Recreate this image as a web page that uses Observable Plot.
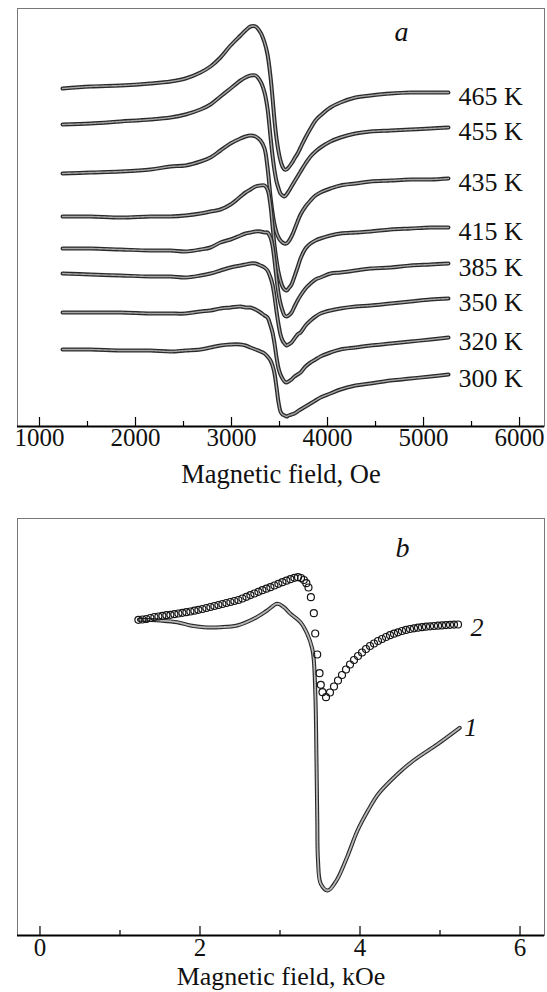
<!DOCTYPE html>
<html>
<head>
<meta charset="utf-8">
<script src="https://cdn.jsdelivr.net/npm/d3@7"></script>
<script src="https://cdn.jsdelivr.net/npm/@observablehq/plot@0.6"></script>
<style>
  html, body { margin: 0; padding: 0; background: #fff; }
  #chart { width: 547px; }
  #chart svg { display: block; }
</style>
</head>
<body>
<div id="chart"></div>
<script>
// ---------- Panel a: EPR derivative spectra, stacked by temperature ----------
// magnetic field (Oe) at which each spectrum is sampled
const fieldA = [1240,1531,1844,2156,2365,2521,2677,2781,2885,2990,3094,3146,3198,3250,3302,3344,3375,3406,3427,3448,3469,3490,3510,3531,3552,3573,3594,3625,3656,3688,3719,3771,3823,3875,3927,4031,4135,4292,4448,4656,4865,5073,5260];
const temperatures = ["465 K", "455 K", "435 K", "415 K", "385 K", "350 K", "320 K", "300 K"];
// signal, arb. units (each spectrum shifted vertically)
const s465 = [3.36,3.38,3.39,3.41,3.43,3.46,3.52,3.58,3.67,3.79,3.89,3.94,3.98,3.98,3.92,3.82,3.70,3.48,3.27,3.04,2.86,2.73,2.64,2.58,2.55,2.55,2.57,2.61,2.66,2.71,2.77,2.87,2.96,3.04,3.09,3.17,3.22,3.27,3.29,3.31,3.32,3.32,3.32];
const s455 = [3.00,3.01,3.03,3.05,3.07,3.10,3.15,3.20,3.28,3.36,3.44,3.47,3.49,3.49,3.43,3.32,3.16,2.88,2.69,2.54,2.43,2.36,2.31,2.29,2.28,2.30,2.33,2.38,2.43,2.48,2.53,2.61,2.68,2.73,2.77,2.83,2.87,2.91,2.93,2.94,2.95,2.96,2.97];
const s435 = [2.51,2.52,2.53,2.55,2.58,2.59,2.63,2.67,2.74,2.81,2.86,2.88,2.89,2.88,2.84,2.76,2.57,2.28,2.12,2.00,1.92,1.87,1.84,1.82,1.81,1.81,1.83,1.88,1.95,2.03,2.10,2.18,2.24,2.29,2.32,2.36,2.39,2.41,2.43,2.44,2.45,2.45,2.46];
const s415 = [2.08,2.08,2.07,2.08,2.08,2.09,2.11,2.13,2.15,2.20,2.28,2.32,2.35,2.38,2.39,2.39,2.35,2.19,1.99,1.79,1.64,1.52,1.44,1.38,1.35,1.34,1.36,1.40,1.48,1.57,1.66,1.76,1.81,1.84,1.86,1.89,1.91,1.92,1.93,1.95,1.96,1.97,1.97];
const s385 = [1.76,1.76,1.75,1.74,1.74,1.73,1.75,1.77,1.82,1.85,1.89,1.91,1.92,1.93,1.93,1.92,1.92,1.87,1.79,1.64,1.46,1.31,1.21,1.14,1.09,1.08,1.09,1.12,1.18,1.24,1.29,1.36,1.41,1.45,1.47,1.51,1.52,1.54,1.56,1.57,1.59,1.60,1.61];
const s350 = [1.51,1.50,1.49,1.48,1.48,1.47,1.49,1.51,1.54,1.57,1.59,1.60,1.61,1.61,1.59,1.57,1.54,1.47,1.40,1.28,1.13,1.00,0.90,0.84,0.81,0.79,0.80,0.82,0.86,0.90,0.92,0.99,1.04,1.08,1.11,1.14,1.16,1.18,1.19,1.21,1.23,1.25,1.26];
const s320 = [1.12,1.12,1.12,1.11,1.11,1.11,1.13,1.14,1.16,1.17,1.18,1.17,1.17,1.15,1.12,1.09,1.07,0.99,0.92,0.81,0.67,0.56,0.50,0.46,0.43,0.42,0.43,0.45,0.48,0.50,0.52,0.58,0.62,0.65,0.68,0.72,0.75,0.77,0.79,0.81,0.83,0.85,0.87];
const s300 = [0.75,0.75,0.74,0.74,0.73,0.74,0.75,0.77,0.79,0.80,0.80,0.79,0.77,0.75,0.73,0.71,0.68,0.64,0.59,0.51,0.37,0.22,0.13,0.10,0.09,0.08,0.09,0.10,0.11,0.13,0.15,0.18,0.21,0.24,0.27,0.31,0.35,0.39,0.41,0.44,0.46,0.48,0.50];

const fieldTicksA = [1000, 2000, 3000, 4000, 5000, 6000];
const fieldMinorA = [1500, 2500, 3500, 4500, 5500];
const titleA = "Magnetic field, Oe";
const domainA = {x: [771, 6260], y: [-0.02, 4.16]};

// ---------- Panel b: two spectra, field in kOe ----------
// [field (kOe), signal (arb. units)]; curve 1: dense small markers, curve 2: sparse open circles
const curve1 = [[1.235,-0.03],[1.381,-0.05],[1.506,-0.10],[1.715,-0.27],[1.881,-0.60],[2.048,-0.77],[2.256,-0.77],[2.465,-0.60],[2.673,0.07],[2.840,0.90],[2.965,1.57],[3.048,1.23],[3.131,0.57],[3.256,-0.27],[3.340,-1.43],[3.403,-2.93],[3.423,-4.10],[3.444,-8.10],[3.456,-14.10],[3.466,-20.10],[3.475,-24.10],[3.510,-26.43],[3.598,-27.10],[3.706,-26.10],[3.838,-23.77],[3.969,-21.10],[4.100,-19.10],[4.231,-17.43],[4.450,-15.60],[4.669,-14.10],[4.975,-12.43],[5.246,-10.83]];
const curve2 = [[1.23,-0.03],[1.28,0.00],[1.33,0.05],[1.38,0.15],[1.43,0.25],[1.48,0.30],[1.53,0.37],[1.58,0.43],[1.63,0.47],[1.68,0.53],[1.73,0.60],[1.78,0.67],[1.83,0.73],[1.88,0.80],[1.93,0.88],[1.98,0.97],[2.03,1.05],[2.08,1.15],[2.13,1.25],[2.18,1.35],[2.23,1.45],[2.28,1.55],[2.33,1.65],[2.38,1.75],[2.43,1.85],[2.48,1.95],[2.53,2.10],[2.58,2.27],[2.63,2.44],[2.68,2.60],[2.73,2.77],[2.78,2.93],[2.83,3.08],[2.88,3.23],[2.93,3.40],[2.98,3.57],[3.03,3.73],[3.08,3.88],[3.13,4.03],[3.18,4.17],[3.225,4.23],[3.263,4.15],[3.298,3.95],[3.329,3.63],[3.356,3.20],[3.386,2.23],[3.423,0.63],[3.44,-1.40],[3.465,-3.50],[3.494,-5.37],[3.51,-6.53],[3.531,-7.27],[3.575,-7.77],[3.625,-7.30],[3.675,-6.70],[3.725,-6.10],[3.775,-5.55],[3.825,-5.00],[3.875,-4.50],[3.925,-4.05],[3.975,-3.65],[4.025,-3.30],[4.075,-2.95],[4.125,-2.65],[4.175,-2.40],[4.225,-2.15],[4.275,-1.95],[4.325,-1.75],[4.375,-1.57],[4.425,-1.42],[4.475,-1.28],[4.525,-1.15],[4.575,-1.04],[4.625,-0.95],[4.675,-0.88],[4.725,-0.82],[4.775,-0.77],[4.825,-0.72],[4.875,-0.68],[4.925,-0.65],[4.975,-0.62],[5.025,-0.59],[5.075,-0.56],[5.125,-0.53],[5.175,-0.51],[5.225,-0.50]];
const curveNames = ["1", "2"];

const fieldTicksB = [0, 2, 4, 6];
const fieldMinorB = [1, 3, 5];
const titleB = "Magnetic field, kOe";
const domainB = {x: [-0.281, 6.306], y: [-31.6, 10.1]};

// ---------- shared styling ----------
const serif = "'Liberation Serif', 'Times New Roman', serif";
const W = 547;

// a trace of tightly packed small rings: dark rim with a light, broken core
function ringTrace(rows, outer, inner, core, dash) {
  return [
    Plot.line(rows, {x: "x", y: "y", curve: "catmull-rom", stroke: "#2a2a2a", strokeWidth: outer}),
    Plot.line(rows, {x: "x", y: "y", curve: "catmull-rom", stroke: core, strokeWidth: inner, strokeDasharray: dash})
  ];
}

function axisMarks(major, minor, innerH, padding, yMin) {
  return [
    Plot.frame({stroke: "#777", strokeWidth: 1}),
    Plot.ruleY([yMin], {stroke: "#000", strokeWidth: 2}),
    Plot.tickX(major, {x: d => d, insetTop: innerH - 9, stroke: "#000", strokeWidth: 1.2}),
    Plot.tickX(minor, {x: d => d, insetTop: innerH - 5, stroke: "#000", strokeWidth: 1.2}),
    Plot.axisX(major, {tickSize: 0, tickPadding: padding, fontSize: 25, fontFamily: serif, tickFormat: d3.format("d"), label: null, fill: "#111"})
  ];
}

// ---------- panel a ----------
const hA = 490, mtA = 8, mbA = 64;
const spectraA = [s465, s455, s435, s415, s385, s350, s320, s300];
const tracesA = spectraA.map(s => s.map((y, j) => ({x: fieldA[j], y})));
const endsA = spectraA.map((s, i) => ({t: temperatures[i], x: fieldA[fieldA.length - 1], y: s[s.length - 1]}));

const chartA = Plot.plot({
  width: W, height: hA,
  marginLeft: 17, marginRight: 3, marginTop: mtA, marginBottom: mbA,
  style: {fontFamily: serif, background: "#fff", color: "#111"},
  x: {domain: domainA.x, axis: null},
  y: {domain: domainA.y, axis: null},
  marks: [
    ...axisMarks(fieldTicksA, fieldMinorA, hA - mtA - mbA, 2, domainA.y[0]),
    ...tracesA.flatMap(rows => ringTrace(rows, 4, 1.4, "#a8a8a8", "1.2 0.8")),
    Plot.text(endsA, {x: "x", y: "y", text: "t", textAnchor: "start", dx: 10, dy: 4, fontSize: 26, fontFamily: serif, fill: "#111"}),
    Plot.text([titleA], {frameAnchor: "bottom", lineAnchor: "top", dy: 38, fontSize: 26.5, fontFamily: serif, fill: "#111"}),
    Plot.text(["a"], {frameAnchor: "top-left", textAnchor: "middle", lineAnchor: "middle", dx: 384, dy: 24, fontSize: 28, fontFamily: serif, fontStyle: "italic", fill: "#111"})
  ]
});

// ---------- panel b ----------
const hB = 502, mtB = 28, mbB = 57;
const rows1 = curve1.map(([x, y]) => ({x, y}));
const rows2 = curve2.map(([x, y]) => ({x, y}));
const endsB = [curve1, curve2].map((c, i) => ({n: curveNames[i], x: c[c.length - 1][0], y: c[c.length - 1][1]}));

const chartB = Plot.plot({
  width: W, height: hB,
  marginLeft: 17, marginRight: 3, marginTop: mtB, marginBottom: mbB,
  style: {fontFamily: serif, background: "#fff", color: "#111"},
  x: {domain: domainB.x, axis: null},
  y: {domain: domainB.y, axis: null},
  marks: [
    ...axisMarks(fieldTicksB, fieldMinorB, hB - mtB - mbB, 3, domainB.y[0]),
    ...ringTrace(rows1, 4, 1.8, "#b8b8b8", "1.5 0.9"),
    Plot.dot(rows2, {x: "x", y: "y", r: 3.5, stroke: "#151515", strokeWidth: 1.2, fill: "none"}),
    Plot.text(endsB.slice(0, 1), {x: "x", y: "y", text: "n", textAnchor: "middle", dx: 11, dy: 0, fontSize: 26, fontFamily: serif, fontStyle: "italic", fill: "#111"}),
    Plot.text(endsB.slice(1), {x: "x", y: "y", text: "n", textAnchor: "middle", dx: 19, dy: 3, fontSize: 26, fontFamily: serif, fontStyle: "italic", fill: "#111"}),
    Plot.text([titleB], {frameAnchor: "bottom", lineAnchor: "top", dy: 31.5, fontSize: 26, fontFamily: serif, fill: "#111"}),
    Plot.text(["b"], {frameAnchor: "top-left", textAnchor: "middle", lineAnchor: "middle", dx: 385, dy: 30, fontSize: 28, fontFamily: serif, fontStyle: "italic", fill: "#111"})
  ]
});

const root = document.getElementById("chart");
root.appendChild(chartA);
root.appendChild(chartB);
</script>
</body>
</html>
